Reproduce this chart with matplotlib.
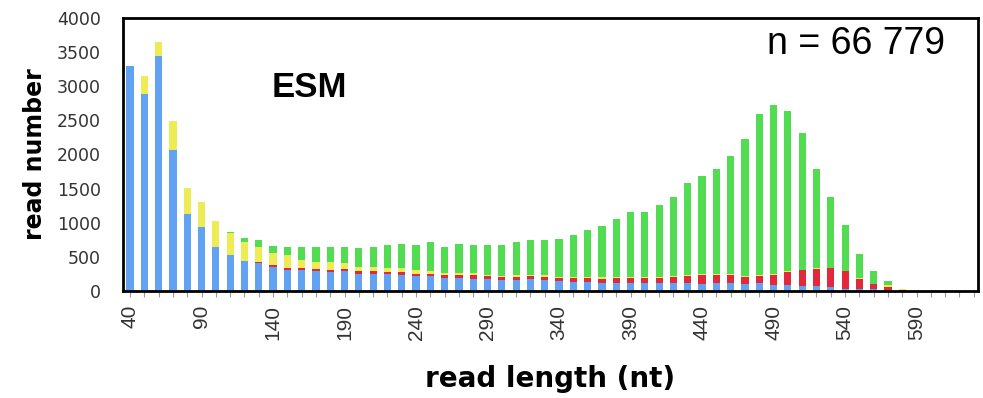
import numpy as np
import matplotlib.pyplot as plt

# read length bins (nt) and read counts per class
length = [40, 50, 60, 70, 80, 90, 100, 110, 120, 130,
          140, 150, 160, 170, 180, 190, 200, 210, 220, 230,
          240, 250, 260, 270, 280, 290, 300, 310, 320, 330,
          340, 350, 360, 370, 380, 390, 400, 410, 420, 430,
          440, 450, 460, 470, 480, 490, 500, 510, 520, 530,
          540, 550, 560, 570, 580]
total = [3300, 3150, 3640, 2490, 1510, 1310, 1030, 870, 780, 740,
         660, 640, 650, 640, 650, 650, 630, 650, 670, 690,
         670, 710, 650, 690, 670, 670, 670, 720, 745, 750,
         760, 820, 890, 945, 1060, 1150, 1150, 1260, 1370, 1585,
         1680, 1780, 1975, 2220, 2590, 2720, 2640, 2320, 1790, 1380,
         970, 540, 295, 150, 30]
blue = [3300, 2880, 3440, 2070, 1130, 930, 640, 525, 440, 410,
        350, 300, 300, 290, 280, 290, 250, 250, 245, 240,
        220, 220, 185, 190, 180, 170, 160, 165, 170, 157,
        142, 132, 132, 122, 122, 122, 122, 122, 118, 122,
        108, 122, 122, 108, 122, 83, 83, 73, 73, 59,
        34, 34, 25, 10, 5]
red = [0, 0, 0, 0, 0, 0, 0, 0, 0, 10,
       30, 30, 30, 30, 30, 30, 35, 40, 35, 40,
       35, 35, 45, 50, 55, 50, 50, 45, 45, 50,
       50, 55, 60, 60, 70, 70, 70, 70, 85, 100,
       120, 110, 118, 98, 98, 147, 196, 230, 255, 270,
       255, 147, 70, 50, 5]
yellow = [0, 270, 200, 420, 380, 380, 390, 330, 270, 220,
          180, 190, 130, 110, 120, 90, 60, 60, 60, 50,
          45, 35, 40, 30, 25, 20, 15, 20, 15, 20,
          15, 15, 15, 15, 15, 15, 15, 15, 15, 15,
          15, 15, 15, 15, 15, 15, 10, 10, 10, 10,
          10, 10, 10, 20, 20]

length = np.array(length)
blue = np.array(blue)
red = np.array(red)
yellow = np.array(yellow)
green = np.clip(np.array(total) - blue - red - yellow, 0, None)

fig = plt.figure(figsize=(9.83, 3.98), dpi=100)
ax = fig.add_axes([0.125, 0.269, 0.87, 0.686])

w = 5
ax.bar(length, blue, w, color='#62a2f3')
ax.bar(length, red, w, bottom=blue, color='#e3283c')
ax.bar(length, yellow, w, bottom=blue + red, color='#eeec55')
ax.bar(length, green, w, bottom=blue + red + yellow, color='#52dc52')

ax.set_xlim(35, 633)
ax.set_ylim(0, 4000)
ax.set_yticks(np.arange(0, 4001, 500))
ax.set_xticks(np.arange(40, 631, 10))
ax.set_xticklabels([str(v) if (v - 40) % 50 == 0 else '' for v in range(40, 631, 10)],
                   rotation=90, family='Liberation Sans')
ax.tick_params(axis='x', labelsize=15, length=4, width=0.8, pad=6,
               color='#999999', labelcolor='#333333')
ax.tick_params(axis='y', labelsize=12.5, length=0, pad=16, labelcolor='#333333')
for s in ax.spines.values():
    s.set_linewidth(2)

ax.set_xlabel('read length (nt)', fontsize=20, fontweight='bold', labelpad=18)
ax.set_ylabel('read number', fontsize=17, fontweight='bold', labelpad=7)

ax.text(0.174, 0.744, 'ESM', transform=ax.transAxes, fontsize=25, fontweight='bold',
        family='Liberation Sans', va='center', ha='left')
ax.text(0.961, 0.905, 'n = 66 779', transform=ax.transAxes, fontsize=27,
        family='Liberation Sans', va='center', ha='right')

fig.savefig('out.png', dpi=100)
